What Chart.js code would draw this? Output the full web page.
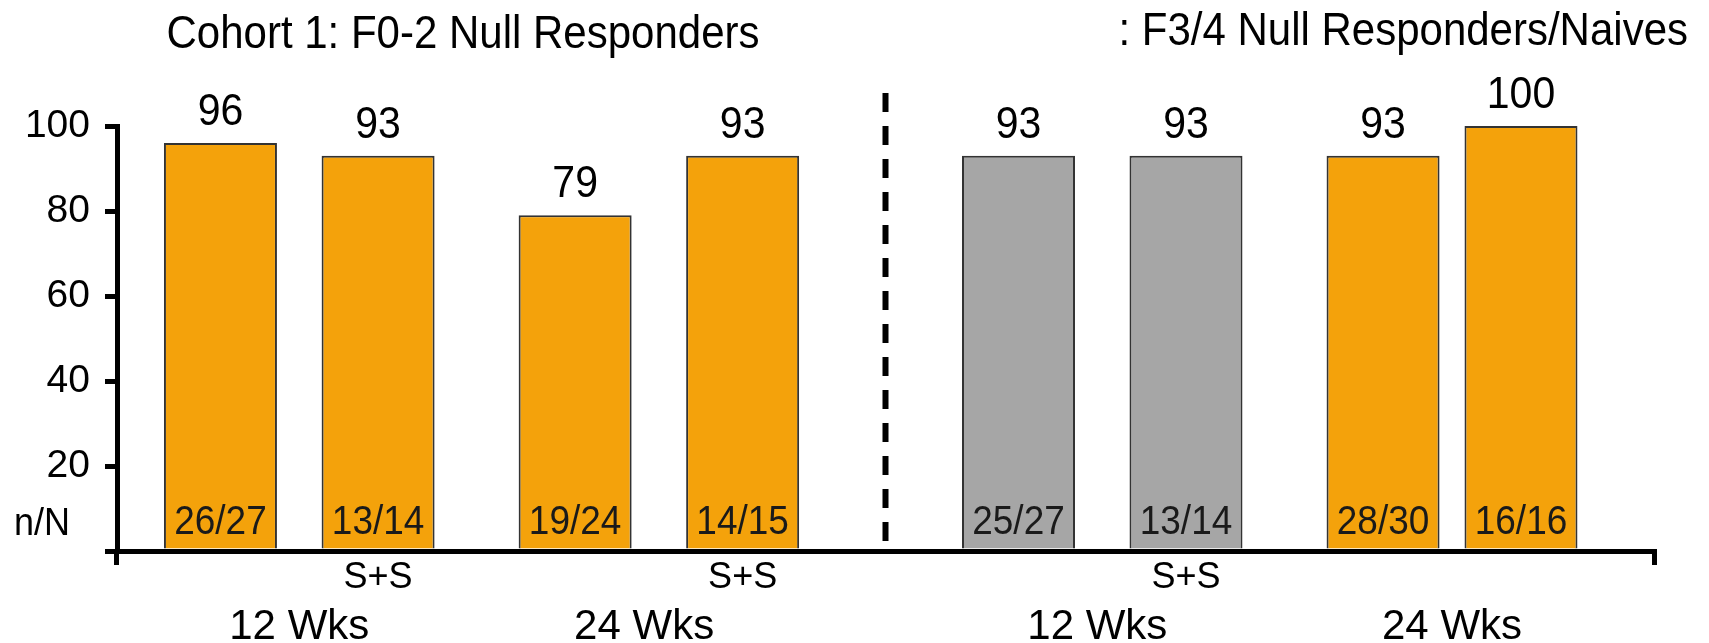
<!DOCTYPE html>
<html>
<head>
<meta charset="utf-8">
<script src="https://cdn.jsdelivr.net/npm/chart.js@4/dist/chart.umd.min.js"></script>
<style>
  html, body { margin: 0; padding: 0; background: #fff; }
  #wrap { width: 1709px; height: 643px; position: relative; }
</style>
</head>
<body>
<div id="wrap"><canvas id="c"></canvas></div>
<script>
// SVR rates (%) by treatment arm, two cohorts
const weekGroups   = ['12 Wks', '24 Wks', '12 Wks', '24 Wks'];
const armRegimens  = ['', 'S+S', '', 'S+S', '', 'S+S', '', ''];
const svrPercent   = [96, 93, 79, 93, 93, 93, 93, 100];
const responders   = ['26/27', '13/14', '19/24', '14/15', '25/27', '13/14', '28/30', '16/16'];
const armCohort    = [1, 1, 1, 1, 2, 2, 2, 2];
const armWeeks     = [12, 12, 24, 24, 12, 12, 24, 24];
const yTickLabels  = [20, 40, 60, 80, 100];
const cohortTitles = ['Cohort 1: F0-2 Null Responders', ': F3/4 Null Responders/Naives'];

// Horizontal layout: the category axis is cut into fine slots so that the
// arms, the week groups and the cohort divider can sit at uneven spacing.
const SLOT_COUNT  = 156;
const armSlot     = [10, 26, 46, 63, 91, 108, 128, 142];
const groupSlot   = [18, 53, 99, 135];
const dividerSlot = 77.5;

const FONT   = '"Liberation Sans", Arial, Helvetica, sans-serif';
const ORANGE = '#F4A20B';
const GREY   = '#A6A6A6';
const STRETCH = 1.08;   // slightly tall lettering for the annotation text

const slotValues = Array(SLOT_COUNT).fill(null);
const armRow     = Array(SLOT_COUNT).fill('');
const groupRow   = Array(SLOT_COUNT).fill('');
armSlot.forEach((s, i) => { slotValues[s] = svrPercent[i]; armRow[s] = armRegimens[i]; });
groupSlot.forEach((s, i) => { groupRow[s] = weekGroups[i]; });

function armColour(ctx) {
  const arm = armSlot.indexOf(ctx.dataIndex);
  if (arm < 0) return ORANGE;
  return (armCohort[arm] === 2 && armWeeks[arm] === 12) ? GREY : ORANGE;
}

function tallText(ctx, text, x, y) {
  ctx.save();
  ctx.translate(x, y);
  ctx.scale(1, STRETCH);
  ctx.fillText(text, 0, 0);
  ctx.restore();
}

// Value labels, n/N counts, cohort divider and cohort titles
const annotations = {
  id: 'annotations',
  afterDatasetsDraw(chart) {
    const { ctx, scales: { x, y } } = chart;
    const meta = chart.getDatasetMeta(0);
    const data = chart.data.datasets[0].data;
    const base = y.getPixelForValue(0);
    ctx.save();

    // cohort divider
    const dx = x.getPixelForValue(dividerSlot);
    ctx.strokeStyle = '#000';
    ctx.lineWidth = 6;
    ctx.setLineDash([19, 14]);
    ctx.beginPath();
    ctx.moveTo(dx, y.top - 33);
    ctx.lineTo(dx, base - 10);
    ctx.stroke();
    ctx.setLineDash([]);

    ctx.textAlign = 'center';
    ctx.textBaseline = 'alphabetic';
    armSlot.forEach((slot, i) => {
      const bar = meta.data[slot];
      ctx.fillStyle = '#000';
      ctx.font = '41px ' + FONT;
      tallText(ctx, String(data[slot]), bar.x, bar.y - 18);
      ctx.fillStyle = '#1a1a1a';
      ctx.font = '37px ' + FONT;
      tallText(ctx, responders[i], bar.x, base - 17);
    });

    // row caption for the counts
    ctx.fillStyle = '#000';
    ctx.font = '36px ' + FONT;
    ctx.textAlign = 'left';
    tallText(ctx, 'n/N', 14, base - 16);

    // cohort titles
    ctx.font = '42px ' + FONT;
    ctx.textAlign = 'center';
    tallText(ctx, cohortTitles[0], 463, 48);
    ctx.textAlign = 'right';
    tallText(ctx, cohortTitles[1], 1688, 45);
    ctx.restore();
  }
};

const edgeOnly = (ctx) => (ctx.type === 'scale' || ctx.index === 0) ? '#000' : 'rgba(0,0,0,0)';

new Chart(document.getElementById('c'), {
  type: 'bar',
  data: {
    labels: armRow,
    datasets: [{
      data: slotValues,
      backgroundColor: armColour,
      borderColor: '#333',
      borderWidth: 2,
      borderSkipped: 'start',
      categoryPercentage: 1,
      barPercentage: 11.47
    }]
  },
  options: {
    responsive: true,
    maintainAspectRatio: false,
    animation: false,
    layout: { padding: { top: 126, right: 55, bottom: 0, left: 0 } },
    plugins: { legend: { display: false }, tooltip: { enabled: false }, title: { display: false } },
    scales: {
      x: {
        type: 'category',
        position: 'bottom',
        weight: 0,
        offset: true,
        grid: { offset: true, drawOnChartArea: false, drawTicks: true, tickLength: 14, lineWidth: 5, color: edgeOnly },
        border: { display: true, color: '#000', width: 5 },
        ticks: { autoSkip: false, maxRotation: 0, minRotation: 0, padding: -5, color: '#000',
                 font: { family: FONT, size: 36, lineHeight: 1 } },
        afterFit: (s) => { s.height = 40; }
      },
      x2: {
        type: 'category',
        position: 'bottom',
        weight: 1,
        labels: groupRow,
        offset: true,
        grid: { display: false, drawTicks: false, offset: true },
        border: { display: false },
        ticks: { autoSkip: false, maxRotation: 0, minRotation: 0, padding: 15, color: '#000',
                 font: { family: FONT, size: 42, lineHeight: 1 } },
        afterFit: (s) => { s.height = 52; }
      },
      y: {
        position: 'left',
        min: 0,
        max: 100,
        grid: { drawOnChartArea: false, drawTicks: true, tickLength: 12, lineWidth: 5, color: '#000' },
        border: { display: true, color: '#000', width: 5 },
        ticks: {
          stepSize: 20,
          padding: 15,
          color: '#000',
          font: { family: FONT, size: 39 },
          callback: (v) => yTickLabels.includes(v) ? String(v) : ''
        },
        afterFit: (s) => { s.width = 117; }
      }
    }
  },
  plugins: [annotations]
});
</script>
</body>
</html>
